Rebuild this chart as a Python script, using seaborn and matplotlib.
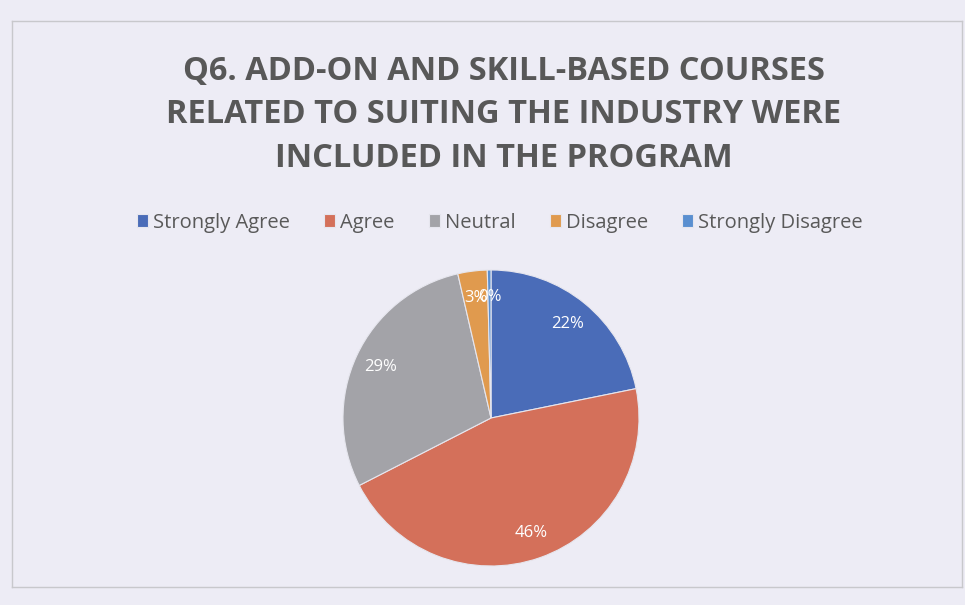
import matplotlib
matplotlib.use("Agg")
import matplotlib.pyplot as plt
import seaborn as sns

# survey answers (share of responses, %)
categories = ["Strongly Agree", "Agree", "Neutral", "Disagree", "Strongly Disagree"]
shares = [21.8, 45.6, 28.9, 3.2, 0.4]
colors = ["#4A6CB8", "#D4705A", "#A3A3A8", "#E09A4E", "#5A8FD0"]
title = "Q6. ADD-ON AND SKILL-BASED COURSES\nRELATED TO SUITING THE INDUSTRY WERE\nINCLUDED IN THE PROGRAM"

sns.set_style("white")
plt.rcParams["font.family"] = ["Open Sans", "DejaVu Sans"]

bg = "#EDECF5"
fig = plt.figure(figsize=(9.65, 6.05), dpi=100, facecolor=bg)

# chart frame
frame = fig.add_axes([0.012, 0.03, 0.985, 0.935])
frame.set_facecolor(bg)
frame.set_xticks([])
frame.set_yticks([])
for s in frame.spines.values():
    s.set_color("#C8C8CC")
    s.set_linewidth(1)

# pie axes, centre ~ (491, 418) px, radius ~148 px
r = 148
ax = fig.add_axes([(491 - r) / 965, (605 - 418 - r) / 605, 2 * r / 965, 2 * r / 605])
ax.set_facecolor("none")
wedges, texts, autotexts = ax.pie(
    shares, colors=colors, startangle=90, counterclock=False,
    autopct="%.0f%%", pctdistance=0.82, radius=1,
    wedgeprops=dict(edgecolor="#E6E6EE", linewidth=0.8),
    textprops=dict(color="white", fontsize=12),
)
ax.set_xlim(-1, 1)
ax.set_ylim(-1, 1)
ax.set_aspect("equal")

fig.text(0.522, 0.81, title, ha="center", va="center", fontsize=23.5,
         fontweight="bold", color="#585858", linespacing=1.42)

leg = fig.legend(wedges, categories, loc="center", bbox_to_anchor=(0.518, 0.632),
                 ncol=5, frameon=False, fontsize=14.5, handlelength=0.55,
                 handleheight=0.55, handletextpad=0.25, columnspacing=1.7)
for t in leg.get_texts():
    t.set_color("#595959")

fig.savefig("out.png", dpi=100, facecolor=bg)
